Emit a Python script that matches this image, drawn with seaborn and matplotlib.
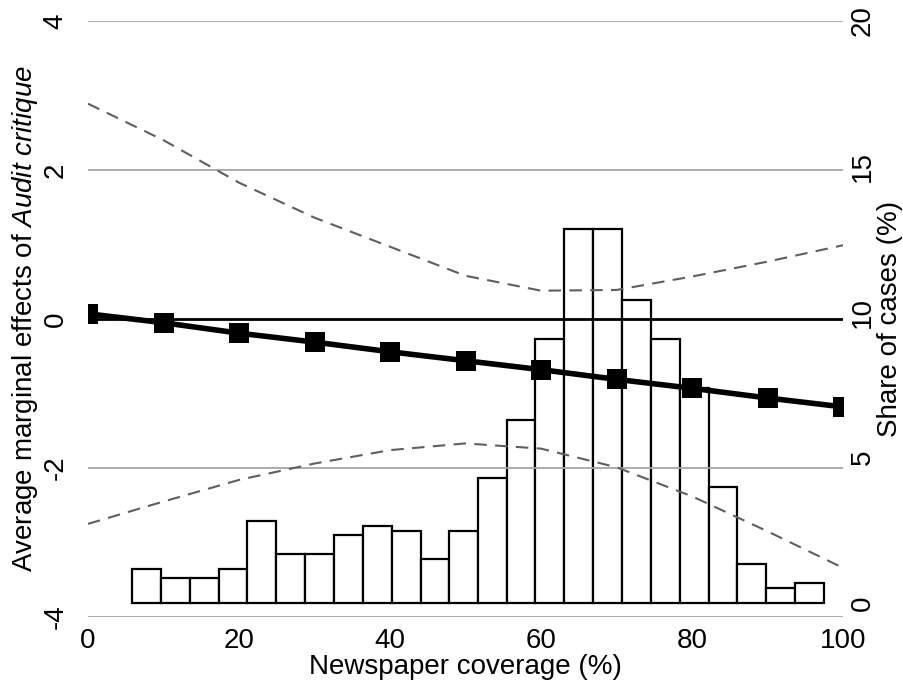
import numpy as np
import pandas as pd
import matplotlib
matplotlib.use("Agg")
import matplotlib.pyplot as plt
import seaborn as sns

# ---- data ----
coverage = [0, 10, 20, 30, 40, 50, 60, 70, 80, 90, 100]
ame = [0.07, -0.05, -0.19, -0.31, -0.44, -0.56, -0.68, -0.81, -0.93, -1.06, -1.18]
ci_upper = [2.89, 2.40, 1.83, 1.36, 0.97, 0.58, 0.38, 0.39, 0.57, 0.77, 0.99]
ci_lower = [-2.75, -2.45, -2.16, -1.94, -1.76, -1.67, -1.74, -1.99, -2.38, -2.85, -3.34]

bin_edges = [5.83, 9.67, 13.51, 17.31, 21.10, 24.94, 28.74, 32.54, 36.38, 40.23,
             44.07, 47.81, 51.62, 55.45, 59.25, 63.09, 66.93, 70.77, 74.57, 78.37,
             82.21, 86.00, 89.80, 93.60, 97.44]
share = [1.17, 0.85, 0.85, 1.17, 2.81, 1.68, 1.68, 2.33, 2.65, 2.49, 1.50, 2.49,
         4.29, 6.28, 9.06, 12.85, 12.85, 10.40, 9.06, 7.39, 3.98, 1.34, 0.50, 0.68]

x_ticks = [0, 20, 40, 60, 80, 100]
left_ticks = [-4, -2, 0, 2, 4]
right_ticks = [0, 5, 10, 15, 20]

# ---- style ----
sns.set_theme(style="white")
plt.rcParams["font.family"] = ["Liberation Sans", "DejaVu Sans"]
plt.rcParams["mathtext.fontset"] = "custom"
plt.rcParams["mathtext.rm"] = "Liberation Sans"
plt.rcParams["mathtext.it"] = "Liberation Sans:italic"
plt.rcParams["text.color"] = "black"
plt.rcParams["axes.labelcolor"] = "black"
plt.rcParams["xtick.color"] = "black"
plt.rcParams["ytick.color"] = "black"
FS = 20

fig = plt.figure(figsize=(9.04, 6.82), dpi=100)
ax = fig.add_axes([88 / 904, 65 / 682, 755 / 904, 596 / 682])
ax2 = ax.twinx()

# histogram (right axis)
centers = [(a + b) / 2 for a, b in zip(bin_edges[:-1], bin_edges[1:])]
hist_df = pd.DataFrame({"coverage": centers, "share": share})
sns.histplot(data=hist_df, x="coverage", weights="share", bins=bin_edges,
             stat="count", ax=ax2, color="white", edgecolor="black",
             linewidth=1.6, alpha=1.0, zorder=1)
ax2.set_ylim(-0.48, 20.0)
ax2.set_yticks(right_ticks)
ax2.set_yticklabels([str(t) for t in right_ticks], rotation=90, va="center",
                    fontsize=FS, color="black")
ax2.tick_params(axis="y", length=0, pad=5)
ax2.set_ylabel("Share of cases (%)", fontsize=FS, rotation=90, color="black")
ax2.yaxis.set_label_coords(1.0455, 0.5)

# main axis on top
ax.set_zorder(ax2.get_zorder() + 1)
ax.patch.set_visible(False)

for y in left_ticks:
    if y == 0:
        ax.axhline(y, color="black", linewidth=2.0, zorder=2)
    else:
        ax.axhline(y, color="#a6a6a6", linewidth=1.3, zorder=2)

df = pd.DataFrame({"coverage": coverage, "ame": ame,
                   "upper": ci_upper, "lower": ci_lower})
for col in ["upper", "lower"]:
    sns.lineplot(data=df, x="coverage", y=col, ax=ax, color="#5f5f5f",
                 linewidth=1.5, dashes=False, zorder=3)
for line in ax.get_lines()[-2:]:
    line.set_linestyle((0, (6, 4)))
sns.lineplot(data=df, x="coverage", y="ame", ax=ax, color="black",
             linewidth=4, marker="s", markersize=14, markeredgewidth=0,
             zorder=4)

ax.set_xlim(0, 100)
ax.set_ylim(-4, 4)
ax.set_xticks(x_ticks)
ax.set_xticklabels([str(t) for t in x_ticks], fontsize=FS, color="black")
ax.set_yticks(left_ticks)
ax.set_yticklabels([str(t) for t in left_ticks], rotation=90, va="center",
                   fontsize=FS, color="black")
ax.tick_params(axis="y", length=0, pad=14)
ax.tick_params(axis="x", length=0, pad=8)
ax.set_xlabel("Newspaper coverage (%)", fontsize=FS, labelpad=0, color="black")
ax.set_ylabel(r"Average marginal effects of $\mathit{Audit\ critique}$",
              fontsize=FS, color="black")
ax.yaxis.set_label_coords(-0.064, 0.5)

for a in (ax, ax2):
    for s in a.spines.values():
        s.set_visible(False)
    a.grid(False)

fig.savefig("out.png", dpi=100)
